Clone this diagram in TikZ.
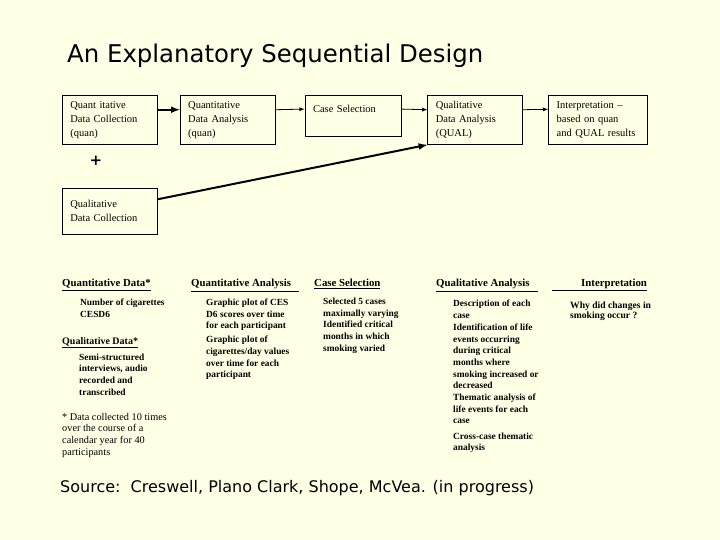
\documentclass[tikz,border=0pt]{standalone}
\usepackage{fontspec}
\setmainfont{Liberation Serif}
\newfontfamily\slidefont{DejaVu Sans}
\usepackage{tikz}
\usetikzlibrary{arrows}
\usetikzlibrary{positioning}
\definecolor{slidebg}{RGB}{255,255,229}
\tikzset{main box/.style={rectangle,draw,line width=0.8bp,anchor=north west,text width=79bp,minimum height=49bp,inner xsep=8bp,inner ysep=0pt,align=left,font=\fontsize{10.5bp}{14bp}\selectfont},}
\tikzset{main head/.style={anchor=base west,inner sep=0pt,font=\fontsize{10.8bp}{12bp}\selectfont\bfseries},}
\tikzset{main list/.style={anchor=north west,yshift=8.19bp,inner sep=0pt,align=left,execute at begin node=\strut,font=\fontsize{9.4bp}{11.7bp}\selectfont\bfseries},}
\tikzset{main arrow/.style={-latex,line width=0.8bp},}
\tikzset{thick arrow/.style={-latex,line width=2bp},}

\begin{document}
\begin{tikzpicture}[x=1bp,y=-1bp]
    \fill[slidebg] (0,0) rectangle (720,540);
    \useasboundingbox (0,0) rectangle (720,540);

    \node[anchor=base west,inner sep=0pt,font=\slidefont\fontsize{24.4bp}{28bp}\selectfont] (title) at (67,63) {An Explanatory Sequential Design};

    % top row of boxes
    \node[main box] (1) at (62,95) {Quant itative\\Data Collection\\(quan)};
    \node[main box] (2) [right = 22bp of 1.north east,anchor=north west] {Quantitative\\Data Analysis\\(quan)};
    \node[main box,text width=80bp,minimum height=41bp] (3) [right = 29bp of 2.north east,anchor=north west] {Case Selection\\ \mbox{}};
    \node[main box] (4) [right = 26bp of 3.north east,anchor=north west] {Qualitative\\Data Analysis\\(QUAL)};
    \node[main box,text width=83bp] (5) [right = 25bp of 4.north east,anchor=north west] {Interpretation --\\based on quan\\and QUAL results};
    \node[main box,minimum height=46bp] (6) [below = 43bp of 1.south west,anchor=north west] {Qualitative\\Data Collection};
    \node[inner sep=0pt,font=\slidefont\bfseries\fontsize{15bp}{15bp}\selectfont] (plus) at (96,161) {+};

    \path[thick arrow] (1.12) edge (2.168);
    \path[main arrow] (2.12) edge (3.172);
    \path[main arrow] (3.8) edge (4.168);
    \path[main arrow] (4.12) edge (5.168);
    \path[thick arrow] (6.14) edge (4.south west);

    % lower table
    \node[main head] (h1) at (62,287) {\underline{Quantitative Data*}};
    \node[main head] (h2) at (191,287) {\underline{Quantitative Analysis\hspace*{8bp}}};
    \node[main head] (h3) at (314,287) {\underline{Case Selection}};
    \node[main head] (h4) at (436,287) {\underline{Qualitative Analysis\hspace*{8bp}}};
    \node[main head] (h5) at (552,287) {\underline{\hspace*{29bp}Interpretation}};

    \node[main list] (l1) at (80,306.7) {Number of cigarettes\\CESD6};
    \node[main head,font=\fontsize{10bp}{12bp}\selectfont\bfseries] (h6) at (62,344) {\underline{Qualitative Data*}};
    \node[main list] (l2) at (79,361.7) {Semi-structured\\interviews, audio\\recorded and\\transcribed};
    \node[main list,font=\fontsize{10.3bp}{11.7bp}\selectfont] (note) at (62,421) {* Data collected 10 times\\over the course of a\\calendar year for 40\\participants};

    \node[main list] (l3) at (206,306.7) {Graphic plot of CES\\D6 scores over time\\for each participant};
    \node[main list] (l4) at (206,344) {Graphic plot of\\cigarettes/day values\\over time for each\\participant};

    \node[main list] (l5) at (323,306) {Selected 5 cases\\maximally varying\\Identified critical\\months in which\\smoking varied};

    \node[main list] (l6) at (453,307.7) {Description of each\\case};
    \node[main list] (l7) at (453,331.7) {Identification of life\\events occurring\\during critical\\months where\\smoking increased or\\decreased};
    \node[main list] (l8) at (453,401.7) {Thematic analysis of\\life events for each\\case};
    \node[main list] (l9) at (453,440.7) {Cross-case thematic\\analysis};

    \node[main list,yshift=-1.54bp,font=\fontsize{9.6bp}{9.5bp}\selectfont\bfseries] (l10) at (570,308.3) {Why did changes in\\smoking occur ?};

    \node[anchor=base west,inner sep=0pt,font=\slidefont\fontsize{16bp}{18bp}\selectfont] (source) at (60,492) {Source:\ \ Creswell, Plano Clark, Shope, McVea. (in progress)};
\end{tikzpicture}
\end{document}
